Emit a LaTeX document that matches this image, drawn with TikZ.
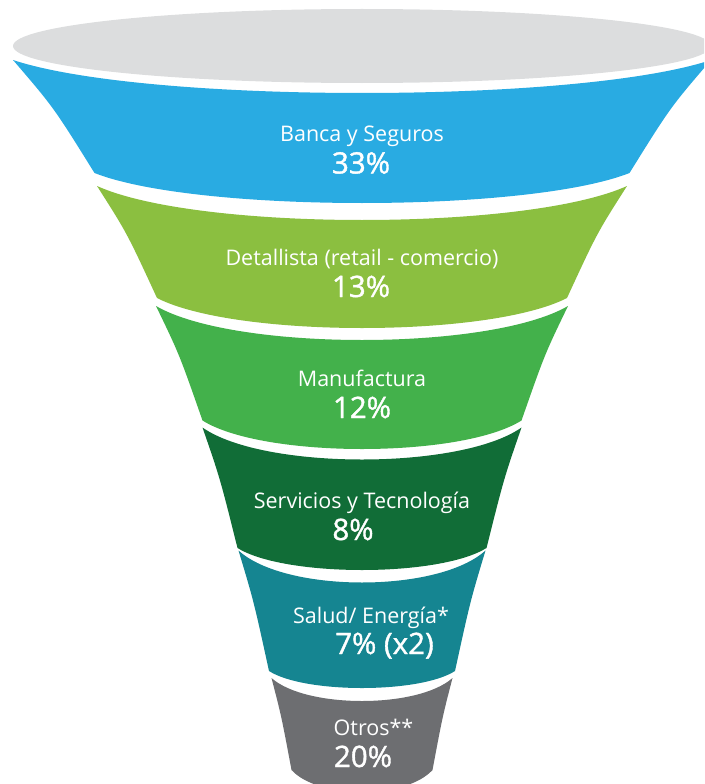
\documentclass[tikz,border=0pt]{standalone}
\usepackage{fontspec}
\setmainfont{Open Sans}
\newfontfamily\pctfont[FakeBold=1.3]{Open Sans}
\definecolor{ellgray}{HTML}{DCDDDE}
\definecolor{cblue}{HTML}{29ABE2}
\definecolor{clgreen}{HTML}{8BBF40}
\definecolor{cgreen}{HTML}{43B14B}
\definecolor{cdgreen}{HTML}{116D37}
\definecolor{cteal}{HTML}{158591}
\definecolor{cgray}{HTML}{6D6E71}
% #1 colour, #2 top corner y, #3 top half width, #4 top sag, #5 bottom corner y, #6 bottom half width, #7 bottom sag
\newcommand\funnelband[7]{%
  \fill[#1] ({362-#3},#2)
    .. controls ({362-0.62*#3},{#2+1.3333*#4}) and ({362+0.62*#3},{#2+1.3333*#4}) .. ({362+#3},#2)
    .. controls ({362+#3+0.5*(#6-#3)},{#2+0.42*(#5-#2)}) .. ({362+#6},#5)
    .. controls ({362+0.62*#6},{#5+1.3333*#7}) and ({362-0.62*#6},{#5+1.3333*#7}) .. ({362-#6},#5)
    .. controls ({362-#3-0.5*(#6-#3)},{#2+0.42*(#5-#2)}) .. cycle;}
\tikzset{
  lbl/.style={text=white,font=\fontsize{21.5}{24}\selectfont,anchor=base,inner sep=0pt},
  pct/.style={text=white,font=\pctfont\fontsize{29.5}{32}\selectfont,anchor=base,inner sep=0pt}
}
\begin{document}
\begin{tikzpicture}[x=1pt,y=-1pt]
\useasboundingbox (0,0) rectangle (704,784);
\clip (0,0) rectangle (704,784);
\fill[ellgray] (362,46) ellipse [x radius=349pt, y radius=37pt];
\funnelband{cblue}{60}{349}{33}{173}{267.5}{30}
\funnelband{clgreen}{186}{265}{34}{298}{205}{30}
\funnelband{cgreen}{306}{206}{34}{420.5}{159.5}{28.5}
\funnelband{cdgreen}{427.5}{159.5}{32}{548}{124.5}{22}
\funnelband{cteal}{550.5}{123.5}{32}{671}{93}{17}
\funnelband{cgray}{678}{90.5}{23}{770}{70.5}{22}
\node[lbl] (l1) at (362,141.5) {Banca y Seguros};
\node[pct] (p1) at (361,173.5) {33\%};
\node[lbl] (l2) at (362,265) {Detallista (retail - comercio)};
\node[pct] (p2) at (361,297) {13\%};
\node[lbl] (l3) at (362,386.5) {Manufactura};
\node[pct] (p3) at (362,418) {12\%};
\node[lbl] (l4) at (362,508) {Servicios y Tecnología};
\node[pct] (p4) at (353,540) {8\%};
\node[lbl] (l5) at (371,623) {Salud/ Energía*};
\node[pct] (p5) at (384.5,654) {7\% (x2)};
\node[lbl] (l6) at (373.5,735) {Otros**};
\node[pct] (p6) at (363,767) {20\%};
\end{tikzpicture}
\end{document}
